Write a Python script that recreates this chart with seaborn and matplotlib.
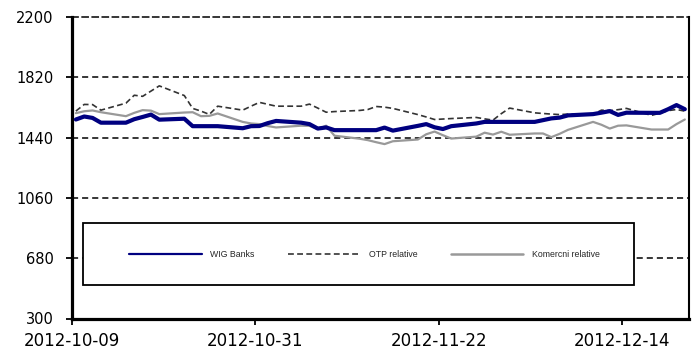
import numpy as np
import pandas as pd
import matplotlib
matplotlib.use("Agg")
import matplotlib.pyplot as plt
import matplotlib.dates as mdates
from matplotlib.lines import Line2D
from matplotlib.patches import Rectangle
import seaborn as sns

sns.set_style("white")
plt.rcParams["font.family"] = ["DejaVu Sans"]

# Trading sessions, 9 Oct - 21 Dec 2012
session_dates = pd.bdate_range("2012-10-09", "2012-12-21")

wig_banks = [1554, 1573, 1564, 1534,
             1534, 1556, 1570, 1585, 1553,
             1559, 1512, 1512, 1512, 1512,
             1499, 1512, 1513, 1531, 1545,
             1534, 1525, 1497, 1504, 1487,
             1487, 1487, 1487, 1503, 1484,
             1514, 1525, 1505, 1494, 1512,
             1529, 1539, 1539, 1539, 1539,
             1539, 1550, 1561, 1566, 1580,
             1588, 1597, 1607, 1583, 1597,
             1596, 1596, 1619, 1645, 1619]

otp_relative = [1607, 1649, 1648, 1613,
                1657, 1707, 1700, 1733, 1766,
                1705, 1624, 1607, 1586, 1638,
                1613, 1638, 1662, 1650, 1638,
                1638, 1651, 1626, 1600, 1604,
                1611, 1617, 1636, 1632, 1624,
                1585, 1570, 1554, 1557, 1560,
                1567, 1558, 1550, 1591, 1626,
                1596, 1592, 1588, 1585, 1588,
                1586, 1613, 1610, 1616, 1624,
                1580, 1594, 1610, 1617, 1607]

komercni_relative = [1594, 1606, 1611, 1600,
                     1575, 1596, 1613, 1610, 1588,
                     1598, 1600, 1575, 1577, 1592,
                     1539, 1529, 1525, 1513, 1504,
                     1515, 1514, 1493, 1515, 1452,
                     1433, 1424, 1411, 1399, 1417,
                     1428, 1461, 1478, 1455, 1434,
                     1446, 1471, 1459, 1477, 1458,
                     1466, 1466, 1443, 1464, 1489,
                     1539, 1521, 1497, 1515, 1517,
                     1491, 1491, 1491, 1525, 1554]

series_names = ["WIG Banks", "OTP relative", "Komercni relative"]
y_ticks = [300, 680, 1060, 1440, 1820, 2200]
x_tick_dates = ["2012-10-09", "2012-10-31", "2012-11-22", "2012-12-14"]

# each session sits in the middle of its day slot on the date axis
x = session_dates + pd.Timedelta(hours=12)
df = pd.DataFrame({"date": x, series_names[0]: wig_banks,
                   series_names[1]: otp_relative,
                   series_names[2]: komercni_relative})

fig = plt.figure(figsize=(6.95, 3.56), dpi=100)
ax = fig.add_axes([71.7 / 695, 1 - 318.5 / 356, (689 - 71.7) / 695, (318.5 - 17) / 356])

grid_dash = (0, (4, 2.6))
ax.set_ylim(300, 2200)
ax.set_yticks(y_ticks)
for v in y_ticks[1:-1]:
    ax.axhline(v, color="black", linewidth=1.1, linestyle=grid_dash, zorder=1)

sns.lineplot(data=df, x="date", y=series_names[2], ax=ax, color="#999999",
             linewidth=1.6, zorder=3)
sns.lineplot(data=df, x="date", y=series_names[1], ax=ax, color="#333333",
             linewidth=1.2, linestyle=(0, (3.5, 2)), zorder=4)
sns.lineplot(data=df, x="date", y=series_names[0], ax=ax, color="#000080",
             linewidth=3.0, zorder=5)

ax.set_xlim(pd.Timestamp("2012-10-09"), pd.Timestamp("2012-12-22"))
ax.set_xticks([pd.Timestamp(d) for d in x_tick_dates])
ax.xaxis.set_major_formatter(mdates.DateFormatter("%Y-%m-%d"))
ax.set_xlabel("")
ax.set_ylabel("")

for side in ["left", "bottom"]:
    ax.spines[side].set_linewidth(2.3)
    ax.spines[side].set_color("black")
ax.spines["right"].set_linewidth(1.5)
ax.spines["right"].set_color("black")
ax.spines["top"].set_linewidth(1.1)
ax.spines["top"].set_color("black")
ax.spines["top"].set_linestyle(grid_dash)

ax.tick_params(axis="y", direction="out", length=4, width=1.3, pad=9,
               labelsize=10.5, left=True, colors="black")
ax.tick_params(axis="x", direction="out", length=4, width=1.3, pad=6,
               labelsize=12, bottom=True, colors="black")

# legend box
ax.add_patch(Rectangle((0.0183, 0.1096), 0.8927, 0.206, transform=ax.transAxes,
                       facecolor="white", edgecolor="black", linewidth=1.3,
                       zorder=9))

handles = [Line2D([], [], color="#000080", linewidth=1.6),
           Line2D([], [], color="#333333", linewidth=1.2, linestyle=(0, (3.5, 2))),
           Line2D([], [], color="#999999", linewidth=1.8)]
leg = ax.legend(handles, series_names, ncol=3, loc="center",
                bbox_to_anchor=(0.0928, 0.1096, 0.7632, 0.206), mode="expand",
                borderaxespad=0, borderpad=0, handlelength=8.3,
                handletextpad=1.0, frameon=False,
                prop={"family": "Liberation Sans", "size": 6.3})
leg.set_zorder(10)

fig.savefig("out.png", dpi=100, facecolor="white")
